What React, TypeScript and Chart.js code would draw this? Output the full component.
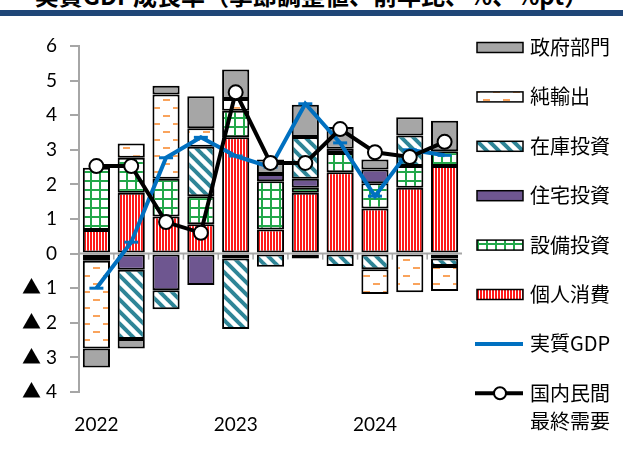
import React, { useEffect, useRef } from 'react';
import { Chart, registerables } from 'chart.js';

Chart.register(...registerables);

// ---- data ----
const categories = ['2022', '', '', '', '2023', '', '', '', '2024', '', ''];
const yTicksMin = -4;
const yTicksMax = 6;

const consumption = [0.68, 1.76, 1.07, 0.85, 3.36, 0.70, 1.76, 2.35, 1.30, 1.90, 2.53];
const capex = [1.80, 1.01, 1.09, 0.81, 0.77, 1.39, 0.14, 0.56, 0.73, 0.63, 0.43];
const housing = [-0.10, -0.47, -1.06, -0.91, -0.14, 0.21, 0.26, 0.12, 0.40, 0, -0.14];
const inventory = [-0.11, -2.00, -0.55, 1.43, -2.04, -0.38, 1.21, -0.36, -0.45, 0.88, -0.22];
const netExports = [-2.53, 0.41, 2.44, 0.53, 0.34, 0, -0.14, 0, -0.72, -1.12, -0.72];
const government = [-0.55, -0.27, 0.25, 0.93, 0.85, 0.42, 0.93, 0.63, 0.29, 0.53, 0.88];
const realGdp = [-1.0, 0.33, 2.77, 3.36, 2.82, 2.5, 4.33, 3.2, 1.66, 3.0, 2.84];
const privateDemand = [2.53, 2.53, 0.91, 0.6, 4.66, 2.62, 2.62, 3.6, 2.93, 2.79, 3.23];

const titleText = '実質GDP成長率（季節調整値、前年比、%、%pt）';

const CJK = "'Noto Sans CJK JP', sans-serif";
const NUM = "Lato, 'Noto Sans CJK JP', sans-serif";

function makePattern(kind: string): CanvasPattern | string {
  const c = document.createElement('canvas');
  const g = c.getContext('2d');
  if (!g) return '#ccc';
  if (kind === 'red') {
    c.width = 3; c.height = 4;
    g.fillStyle = '#FFFFFF'; g.fillRect(0, 0, 3, 4);
    g.fillStyle = '#FF1A1A'; g.fillRect(0, 0, 2, 4);
  } else if (kind === 'green') {
    c.width = 9; c.height = 9;
    g.fillStyle = '#FFFFFF'; g.fillRect(0, 0, 9, 9);
    g.fillStyle = '#22A84A';
    g.fillRect(0, 0, 9, 2);
    g.fillRect(0, 0, 2, 9);
  } else if (kind === 'teal') {
    c.width = 12; c.height = 12;
    g.fillStyle = '#FFFFFF'; g.fillRect(0, 0, 12, 12);
    g.strokeStyle = '#2E8597'; g.lineWidth = 4;
    for (const off of [-12, 0, 12]) {
      g.beginPath(); g.moveTo(-2, off - 2); g.lineTo(14, off + 14); g.stroke();
    }
  } else if (kind === 'orange') {
    c.width = 20; c.height = 16;
    g.fillStyle = '#FFFFFF'; g.fillRect(0, 0, 20, 16);
    g.fillStyle = '#F9A35C';
    g.fillRect(3, 3, 7, 2);
    g.fillRect(13, 11, 7, 2);
  }
  const p = g.createPattern(c, 'repeat');
  return p || '#ccc';
}

export default function App() {
  const ref = useRef<HTMLCanvasElement | null>(null);

  useEffect(() => {
    if (!ref.current) return;
    const fills = {
      red: makePattern('red'),
      green: makePattern('green'),
      teal: makePattern('teal'),
      orange: makePattern('orange'),
      purple: '#6E5690',
      gray: '#A6A6A6',
    };

    const legendItems = [
      { label: '政府部門', fill: fills.gray },
      { label: '純輸出', fill: fills.orange },
      { label: '在庫投資', fill: fills.teal },
      { label: '住宅投資', fill: fills.purple },
      { label: '設備投資', fill: fills.green },
      { label: '個人消費', fill: fills.red },
    ];

    const overlay = {
      id: 'overlay',
      afterDatasetDraw(chart: any, args: any) {
        if (args.index !== 2) return;
        const ctx = chart.ctx;
        const xs = chart.scales.x;
        const ys = chart.scales.y;
        const y0 = ys.getPixelForValue(0);
        const { left, right } = chart.chartArea;
        ctx.save();
        ctx.strokeStyle = '#A6A6A6';
        ctx.lineWidth = 2;
        ctx.beginPath();
        ctx.moveTo(left, y0);
        ctx.lineTo(right, y0);
        ctx.stroke();
        ctx.lineWidth = 1.5;
        const n = categories.length;
        for (let i = 1; i < n; i++) {
          const px = (xs.getPixelForValue(i - 1) + xs.getPixelForValue(i)) / 2;
          ctx.beginPath();
          ctx.moveTo(px, y0);
          ctx.lineTo(px, y0 + 6);
          ctx.stroke();
        }
        ctx.restore();
      },
      afterDraw(chart: any) {
        const ctx = chart.ctx;
        ctx.save();
        const sx = 477, sw = 46, sh = 10, tx = 530;
        const step = 49.4;
        ctx.font = `20px ${CJK}`;
        ctx.textBaseline = 'middle';
        ctx.textAlign = 'left';
        legendItems.forEach((it, i) => {
          const cy = 47.5 + step * i;
          ctx.fillStyle = it.fill as any;
          ctx.fillRect(sx, cy - sh / 2, sw, sh);
          ctx.strokeStyle = '#000';
          ctx.lineWidth = 1.5;
          ctx.strokeRect(sx, cy - sh / 2, sw, sh);
          ctx.fillStyle = '#000';
          ctx.fillText(it.label, tx, cy);
        });
        // GDP line
        let cy = 47.5 + step * 6;
        ctx.strokeStyle = '#0070C0';
        ctx.lineWidth = 4;
        ctx.beginPath(); ctx.moveTo(sx - 2, cy); ctx.lineTo(sx + sw, cy); ctx.stroke();
        ctx.fillStyle = '#000';
        ctx.fillText('実質GDP', tx, cy);
        // private demand
        cy = 47.5 + step * 7;
        ctx.strokeStyle = '#000';
        ctx.lineWidth = 4;
        ctx.beginPath(); ctx.moveTo(sx - 2, cy); ctx.lineTo(sx + sw, cy); ctx.stroke();
        ctx.beginPath(); ctx.arc(sx + sw / 2, cy, 6, 0, Math.PI * 2);
        ctx.fillStyle = '#fff'; ctx.fill();
        ctx.lineWidth = 2; ctx.stroke();
        ctx.fillStyle = '#000';
        ctx.fillText('国内民間', tx, cy);
        ctx.fillText('最終需要', tx, cy + 28);
        ctx.restore();
      },
    };

    const barBase = {
      type: 'bar' as const,
      borderColor: '#000',
      borderWidth: 2,
      borderSkipped: false,
      stack: 'bars',
      order: 2,
      barPercentage: 0.78,
      categoryPercentage: 1,
    };

    const chart = new Chart(ref.current, {
      type: 'bar',
      data: {
        labels: categories,
        datasets: [
          {
            type: 'line',
            label: '国内民間最終需要',
            data: privateDemand,
            borderColor: '#000',
            borderWidth: 4,
            pointRadius: 7,
            pointBackgroundColor: '#fff',
            pointBorderColor: '#000',
            pointBorderWidth: 2,
            stack: 'pd',
            order: 0,
            tension: 0,
          },
          {
            type: 'line',
            label: '実質GDP',
            data: realGdp,
            borderColor: '#0070C0',
            borderWidth: 4,
            pointStyle: 'line',
            pointRadius: 7,
            pointBorderColor: '#0070C0',
            pointBorderWidth: 3,
            stack: 'gdp',
            order: 1,
            tension: 0,
          },
          { ...barBase, label: '個人消費', data: consumption, backgroundColor: fills.red },
          { ...barBase, label: '設備投資', data: capex, backgroundColor: fills.green },
          { ...barBase, label: '住宅投資', data: housing, backgroundColor: fills.purple },
          { ...barBase, label: '在庫投資', data: inventory, backgroundColor: fills.teal },
          { ...barBase, label: '純輸出', data: netExports, backgroundColor: fills.orange },
          { ...barBase, label: '政府部門', data: government, backgroundColor: fills.gray },
        ] as any,
      },
      options: {
        responsive: false,
        animation: false,
        devicePixelRatio: 1,
        layout: { padding: { left: 0, right: 161, top: 46, bottom: 0 } },
        plugins: {
          legend: { display: false },
          tooltip: { enabled: false },
          title: { display: false },
        },
        scales: {
          x: {
            stacked: true,
            offset: true,
            grid: { display: false },
            border: { display: false },
            ticks: {
              autoSkip: false,
              maxRotation: 0,
              color: '#000',
              font: { family: NUM, size: 19 },
              padding: 13,
            },
            afterFit(scale: any) { scale.height = 60; },
          },
          y: {
            stacked: true,
            min: yTicksMin,
            max: yTicksMax,
            border: { display: true, color: '#A6A6A6', width: 2 },
            grid: {
              drawOnChartArea: false,
              drawTicks: true,
              tickLength: 9,
              color: '#A6A6A6',
              lineWidth: 2,
            },
            ticks: {
              stepSize: 1,
              color: '#000',
              padding: 13,
              font: { family: NUM, size: 19 },
              callback: (v: any) => (Number(v) < 0 ? '▲ ' + Math.abs(Number(v)) : String(v)),
            },
            afterFit(scale: any) { scale.width = 79; },
          },
        },
      } as any,
      plugins: [overlay],
    });
    return () => chart.destroy();
  }, []);

  return (
    <div style={{ position: 'fixed', left: 0, top: 0, width: 623, height: 452, background: '#fff', overflow: 'hidden' }}>
      <div
        style={{
          position: 'absolute',
          left: 0,
          width: 623,
          top: -17,
          textAlign: 'center',
          fontFamily: CJK,
          fontWeight: 'bold',
          fontSize: 24,
          lineHeight: '24px',
          whiteSpace: 'nowrap',
          color: '#000',
        }}
      >
        {titleText}
      </div>
      <div style={{ position: 'absolute', left: 0, top: 10, width: 623, height: 6, background: '#1F4677' }} />
      <canvas ref={ref} width={623} height={452} style={{ position: 'absolute', left: 0, top: 0, width: 623, height: 452 }} />
    </div>
  );
}
